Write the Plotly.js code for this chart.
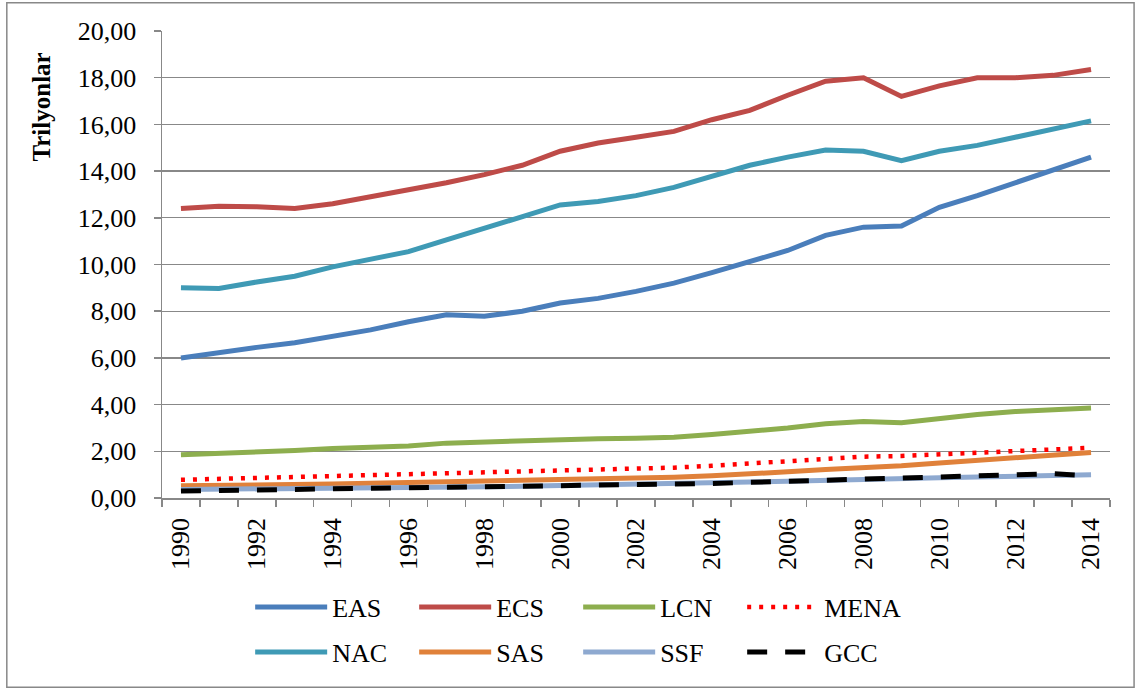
<!DOCTYPE html>
<html>
<head>
<meta charset="utf-8">
<script src="https://cdn.plot.ly/plotly-3.0.1.min.js"></script>
<style>html,body{margin:0;padding:0;background:#fff;}#chart{width:1141px;height:689px;}</style>
</head>
<body>
<div id="chart"></div>
<script>
const years = [1990,1991,1992,1993,1994,1995,1996,1997,1998,1999,2000,2001,2002,2003,2004,2005,2006,2007,2008,2009,2010,2011,2012,2013,2014];
const EAS  = [6.00,6.25,6.45,6.65,6.90,7.20,7.55,7.85,7.78,8.00,8.35,8.55,8.85,9.20,9.65,10.10,10.60,11.25,11.60,11.65,12.45,12.95,13.50,14.10,14.60];
const ECS  = [12.40,12.50,12.47,12.40,12.60,12.90,13.15,13.50,13.85,14.25,14.85,15.20,15.45,15.70,16.20,16.60,17.25,17.85,18.00,17.20,17.65,18.00,18.00,18.10,18.35];
const LCN  = [1.85,1.90,1.95,2.03,2.12,2.15,2.23,2.35,2.40,2.42,2.52,2.54,2.56,2.60,2.72,2.85,3.00,3.18,3.28,3.22,3.42,3.58,3.70,3.78,3.85];
const MENA = [0.78,0.82,0.86,0.90,0.93,0.98,1.02,1.07,1.10,1.13,1.18,1.22,1.25,1.30,1.38,1.47,1.58,1.68,1.77,1.80,1.87,1.95,2.02,2.10,2.15];
const NAC  = [9.00,8.97,9.25,9.50,9.90,10.20,10.55,11.05,11.55,12.10,12.55,12.70,12.95,13.30,13.80,14.25,14.60,14.90,14.85,14.45,14.85,15.10,15.45,15.80,16.15];
const SAS  = [0.52,0.53,0.55,0.57,0.60,0.63,0.66,0.69,0.71,0.74,0.78,0.80,0.84,0.89,0.95,1.02,1.12,1.22,1.28,1.38,1.50,1.60,1.70,1.82,1.95];
const SSF  = [0.36,0.37,0.38,0.40,0.41,0.43,0.45,0.47,0.48,0.50,0.53,0.55,0.57,0.60,0.64,0.68,0.72,0.77,0.80,0.82,0.87,0.90,0.93,0.97,1.00];
const GCC  = [0.30,0.32,0.35,0.37,0.38,0.40,0.42,0.44,0.45,0.47,0.50,0.52,0.54,0.57,0.62,0.67,0.72,0.77,0.82,0.82,0.87,0.93,0.98,1.04,0.95];
const xTickLabels = ["1990","1992","1994","1996","1998","2000","2002","2004","2006","2008","2010","2012","2014"];
const xTickVals = [1990,1992,1994,1996,1998,2000,2002,2004,2006,2008,2010,2012,2014];

const FAM = 'Liberation Serif';
const W = 5;
function tr(name, y, color, dash, width, legend) {
  return {x: years, y: y, name: name, type: 'scatter', mode: 'lines', legend: legend,
    line: {color: color, width: width || W, dash: dash || 'solid'}};
}
const data = [
  tr('EAS', EAS, '#4A7EBB', 'solid', W, 'legend'),
  tr('ECS', ECS, '#BE4B48', 'solid', W, 'legend'),
  tr('LCN', LCN, '#8DAE4E', 'solid', W, 'legend'),
  tr('MENA', MENA, '#FF0000', '4px,8px', 4.5, 'legend'),
  tr('NAC', NAC, '#3F9AB5', 'solid', W, 'legend2'),
  tr('SAS', SAS, '#E0813A', 'solid', W, 'legend2'),
  tr('SSF', SSF, '#8EA9D0', 'solid', W, 'legend2'),
  tr('GCC', GCC, '#000000', '20px,18px', 5, 'legend2')
];
const legendBase = {
  orientation: 'h', x: 0.093, xanchor: 'left', yanchor: 'middle',
  itemwidth: 72,
  entrywidth: 77, entrywidthmode: 'pixels',
  font: {family: FAM, size: 26, color: '#000'}, bgcolor: 'rgba(0,0,0,0)', traceorder: 'normal'
};
const layout = {
  width: 1141, height: 689,
  margin: {l: 162, r: 31, t: 31, b: 191, autoexpand: false},
  paper_bgcolor: '#fff', plot_bgcolor: '#fff',
  separators: ',.',
  font: {family: FAM, size: 26, color: '#000'},
  xaxis: {
    type: 'linear', range: [1989.5, 2014.5],
    tickvals: xTickVals, ticktext: xTickLabels, tickangle: -90,
    ticks: 'outside', ticklen: 8, tickcolor: 'rgba(0,0,0,0)',
    minor: {tick0: 1989.5, dtick: 1, ticks: 'outside', ticklen: 7, tickcolor: '#888', tickwidth: 1.5, showgrid: false},
    showgrid: false, zeroline: false,
    showline: true, linecolor: '#888', linewidth: 1.5,
    tickfont: {family: FAM, size: 26, color: '#000'}
  },
  yaxis: {
    range: [0, 20], dtick: 2, tick0: 0, tickformat: '.2f',
    ticks: 'outside', ticklen: 7, tickcolor: '#888', tickwidth: 1.5,
    ticklabelstandoff: 12,
    showgrid: true, gridcolor: '#888', gridwidth: 1.3,
    zeroline: false, showline: true, linecolor: '#888', linewidth: 1.5,
    tickfont: {family: FAM, size: 26, color: '#000'}
  },
  annotations: [{
    text: '<b>Trilyonlar</b>', xref: 'paper', yref: 'paper',
    x: -0.1267, y: 0.838, xanchor: 'center', yanchor: 'middle',
    textangle: -90, showarrow: false,
    font: {family: FAM, size: 25, color: '#000'}
  }],
  showlegend: true,
  legend: Object.assign({}, legendBase, {y: -0.2336}),
  legend2: Object.assign({}, legendBase, {y: -0.33}),
  shapes: [{
    type: 'rect', xref: 'paper', yref: 'paper',
    x0: -0.1637, x1: 1.0254, y0: -0.405, y1: 1.0606,
    line: {color: '#888', width: 1.5}, fillcolor: 'rgba(0,0,0,0)', layer: 'below'
  }]
};
Plotly.newPlot('chart', data, layout, {displayModeBar: false, staticPlot: true});
</script>
</body>
</html>
